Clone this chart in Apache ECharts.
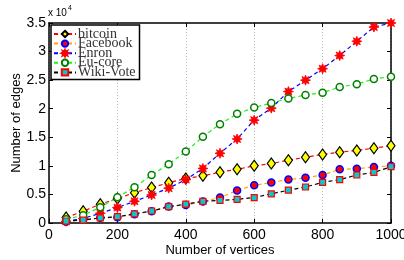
<!DOCTYPE html>
<html>
<head>
<meta charset="utf-8">
<script src="https://cdn.jsdelivr.net/npm/echarts@6/dist/echarts.min.js"></script>
<style>
    html, body {margin: 0; padding: 0; background: #fff;}
    #edges-chart {width: 404px; height: 260px;}
</style>
</head>
<body>
<div id="edges-chart"></div>
<script>
// 顶点数 (x)
var vertices = [50, 100, 150, 200, 250, 300, 350, 400, 450, 500, 550, 600, 650, 700, 750, 800, 850, 900, 950, 1000];
// 各数据集的边数
var bitcoin = [950, 2050, 3300, 4300, 5300, 6200, 7050, 7800, 8250, 8900, 9400, 10000, 10400, 11000, 11500, 12000, 12400, 12700, 13100, 13500];
var facebook = [200, 600, 900, 1000, 1550, 2050, 2900, 3150, 3750, 4450, 5700, 6600, 7100, 7600, 7900, 8400, 9400, 9500, 9800, 10000];
var enron = [300, 800, 1700, 2700, 3800, 4900, 6100, 7600, 9550, 12200, 14700, 18000, 20100, 23000, 25000, 27000, 29300, 31800, 34300, 35000];
var euCore = [650, 1350, 2750, 4500, 6250, 8400, 10300, 12500, 15100, 17300, 19100, 20200, 21000, 21800, 22400, 22800, 23800, 24300, 25200, 25600];
var wikiVote = [350, 500, 880, 1100, 1600, 2100, 2850, 3300, 3800, 3950, 4150, 4450, 5100, 5750, 6300, 7100, 7600, 8400, 8850, 9850];

var xTicks = [0, 200, 400, 600, 800, 1000];
var yTicks = [0, 0.5, 1, 1.5, 2, 2.5, 3, 3.5];

// 星号标记
var STAR = 'path://M0,-10L2,-4.8L7.07,-7.07L4.8,-2L10,0L4.8,2L7.07,7.07L2,4.8L0,10L-2,4.8L-7.07,7.07L-4.8,2L-10,0L-4.8,-2L-7.07,-7.07L-2,-4.8Z';

Edges();

function pairs(ys) {
    var out = [];
    for (var i = 0; i < vertices.length; i++) {
        out.push([vertices[i], ys[i]]);
    }
    return out;
}

function Edges() {
    var myChart = echarts.init(document.getElementById('edges-chart'));
    var font = 'Liberation Sans';

    var option = {
        animation: false,
        backgroundColor: '#fff',
        title: {
            text: '{a|x 10}{b|4}',
            left: 48,
            top: 3,
            padding: 0,
            textStyle: {
                rich: {
                    a: {fontFamily: font, fontSize: 10, fontWeight: 'normal', color: '#000', padding: [5, 0, 0, 0]},
                    b: {fontFamily: font, fontSize: 7, fontWeight: 'normal', color: '#000', padding: [0, 0, 5, 1]}
                }
            }
        },
        legend: {
            data: ['bitcoin', 'Facebook', 'Enron', 'Eu-core', 'Wiki-Vote'],
            orient: 'vertical',
            left: 51,
            top: 25,
            itemWidth: 22,
            itemHeight: 8,
            itemGap: -4.4,
            padding: [2, 4, 0, 2],
            backgroundColor: '#fff',
            borderColor: '#000',
            borderWidth: 1.5,
            borderRadius: 0,
            textStyle: {
                fontFamily: 'Liberation Serif',
                fontSize: 14,
                color: '#333',
                padding: [0, 0, 0, -3]
            }
        },
        grid: {
            left: 49,
            right: 13,
            top: 23,
            bottom: 37,
            outerBoundsMode: 'none'
        },
        xAxis: [
            {
                type: 'value',
                min: 0,
                max: 1000,
                interval: 200,
                name: 'Number of vertices',
                nameLocation: 'middle',
                nameGap: 21,
                nameMoveOverlap: false,
                nameTextStyle: {fontFamily: font, fontSize: 13, color: '#000'},
                axisLine: {onZero: false, lineStyle: {color: '#000', width: 1.5}},
                axisTick: {inside: true, length: 4, lineStyle: {color: '#000'}},
                axisLabel: {
                    fontFamily: font, fontSize: 14, color: '#000', margin: 5,
                    formatter: function (v) {
                        return String(xTicks[Math.round(v / 200)]);
                    }
                },
                splitLine: {show: true, lineStyle: {color: '#bbb', type: [1, 2], width: 1}}
            },
            {
                type: 'value',
                position: 'top',
                min: 0,
                max: 1000,
                interval: 200,
                axisLine: {onZero: false, lineStyle: {color: '#000', width: 1.5}},
                axisTick: {inside: true, length: 4, lineStyle: {color: '#000'}},
                axisLabel: {show: false},
                splitLine: {show: false}
            }
        ],
        yAxis: [
            {
                type: 'value',
                min: 0,
                max: 35000,
                interval: 5000,
                name: 'Number of edges',
                nameLocation: 'middle',
                nameGap: 26,
                nameMoveOverlap: false,
                nameTextStyle: {fontFamily: font, fontSize: 13, color: '#000'},
                axisLine: {show: true, onZero: false, lineStyle: {color: '#000', width: 1.5}},
                axisTick: {show: true, inside: true, length: 4, lineStyle: {color: '#000'}},
                axisLabel: {
                    fontFamily: font, fontSize: 14, color: '#000', margin: 3,
                    formatter: function (v) {
                        return String(yTicks[Math.round(v / 5000)]);
                    }
                },
                splitLine: {show: false}
            },
            {
                type: 'value',
                position: 'right',
                min: 0,
                max: 35000,
                interval: 5000,
                axisLine: {show: true, onZero: false, lineStyle: {color: '#000', width: 1.5}},
                axisTick: {show: true, inside: true, length: 4, lineStyle: {color: '#000'}},
                axisLabel: {show: false},
                splitLine: {show: false}
            }
        ],
        series: [
            {
                name: 'bitcoin',
                type: 'line',
                data: pairs(bitcoin),
                symbol: 'diamond',
                symbolSize: [8, 11],
                lineStyle: {color: '#ff0000', width: 1.2, type: [4, 3]},
                itemStyle: {color: '#ffff00', borderColor: '#000', borderWidth: 1.2}
            },
            {
                name: 'Facebook',
                type: 'line',
                data: pairs(facebook),
                symbol: 'circle',
                symbolSize: 7,
                lineStyle: {color: '#ffa500', width: 1.2, type: [4, 3]},
                itemStyle: {color: '#ff0000', borderColor: '#0000ff', borderWidth: 1.5}
            },
            {
                name: 'Enron',
                type: 'line',
                data: pairs(enron),
                symbol: STAR,
                symbolSize: 10,
                lineStyle: {color: '#0000ff', width: 1.2, type: [4, 3]},
                itemStyle: {color: '#ff0000', borderColor: '#ff0000', borderWidth: 0.8}
            },
            {
                name: 'Eu-core',
                type: 'line',
                data: pairs(euCore),
                symbol: 'circle',
                symbolSize: 7,
                lineStyle: {color: '#22ee22', width: 1.2, type: [4, 3]},
                itemStyle: {color: '#fff', borderColor: '#008000', borderWidth: 1.5}
            },
            {
                name: 'Wiki-Vote',
                type: 'line',
                data: pairs(wikiVote),
                symbol: 'rect',
                symbolSize: 6,
                lineStyle: {color: '#000', width: 1.2, type: [4, 3]},
                itemStyle: {color: '#00cccc', borderColor: '#ff0000', borderWidth: 1.2}
            }
        ]
    };

    myChart.setOption(option);
}
</script>
</body>
</html>
